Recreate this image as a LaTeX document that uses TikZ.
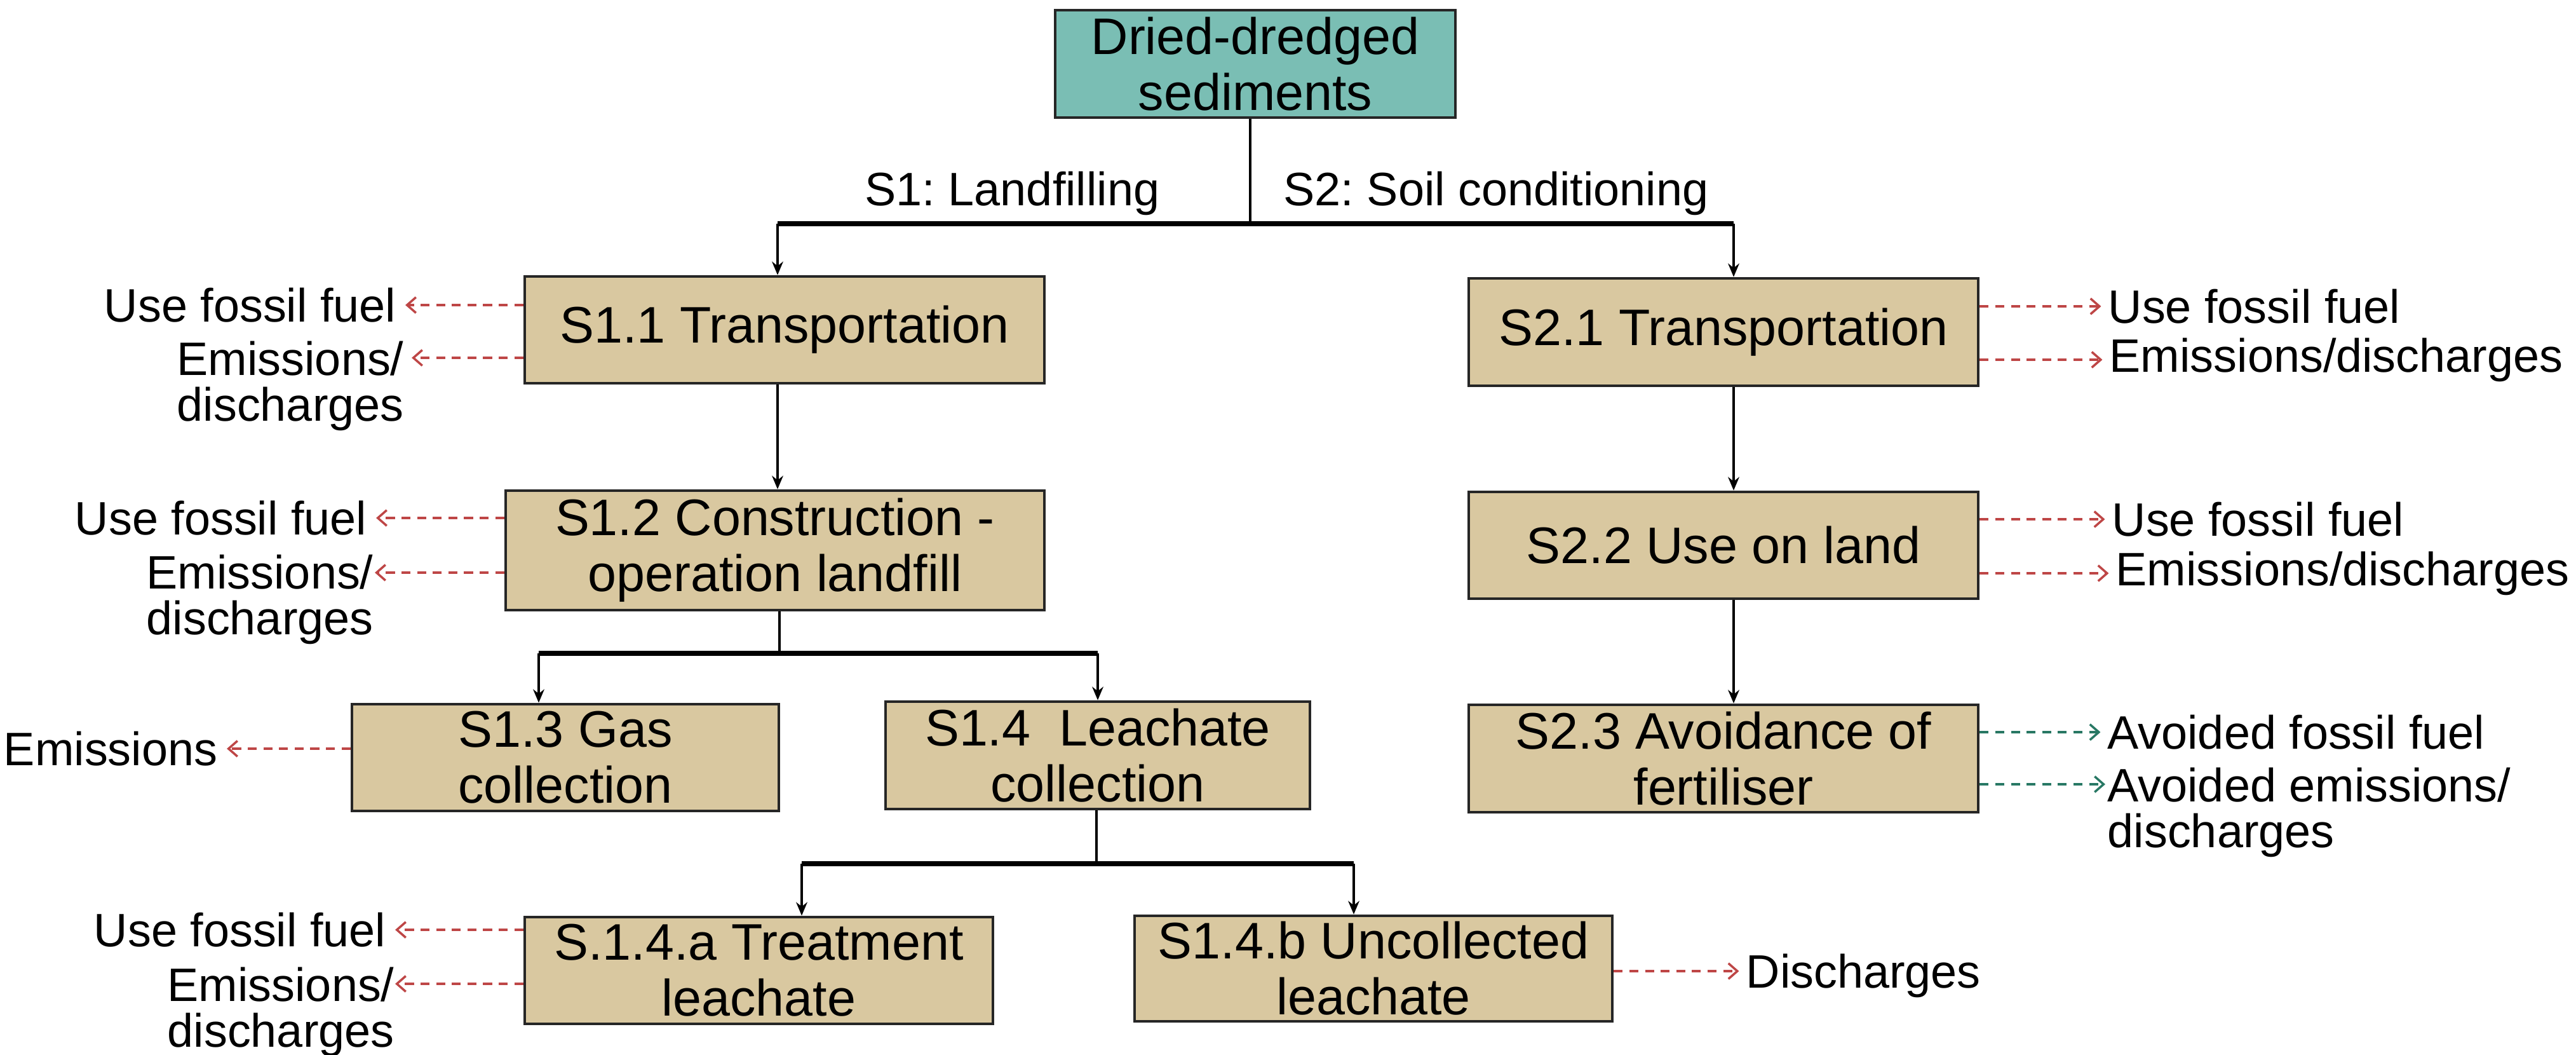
\documentclass[tikz,border=0pt]{standalone}
\usepackage{fontspec}
\setmainfont{Liberation Sans}
\usetikzlibrary{arrows.meta}
\frenchspacing
\definecolor{tanbox}{RGB}{217,200,160}
\definecolor{tealbox}{RGB}{122,190,180}
\definecolor{redarr}{RGB}{190,70,70}
\definecolor{greenarr}{RGB}{40,120,100}
\tikzset{
  box/.style={draw=black!85, line width=1.3pt, fill=tanbox, inner sep=0pt, align=center,
    font=\fontsize{23}{25}\selectfont},
  conn/.style={line width=1.1pt},
  barline/.style={line width=2.4pt},
  arr/.style={line width=1.1pt, -{Stealth[length=6pt,width=5pt]}},
  side/.style={inner sep=0pt, font=\fontsize{21}{20.5}\selectfont},
  redd/.style={redarr, line width=1pt, dash pattern=on 4pt off 3pt, -{Straight Barb[length=4pt,width=7pt]}},
  greend/.style={greenarr, line width=1pt, dash pattern=on 4pt off 3pt, -{Straight Barb[length=4pt,width=7pt]}}
}
\begin{document}
\begin{tikzpicture}
\useasboundingbox (0,0) rectangle (40.55,-16.59);
\node[box, fill=tealbox, minimum width=6.30cm, minimum height=1.69cm] (top) at (19.76,-1.005) {Dried-dredged\\sediments};
\node[box, minimum width=8.18cm, minimum height=1.68cm] (s11) at (12.35,-5.19) {S1.1 Transportation};
\node[box, minimum width=8.02cm, minimum height=1.69cm] (s21) at (27.13,-5.225) {S2.1 Transportation};
\node[box, minimum width=8.48cm, minimum height=1.88cm] (s12) at (12.20,-8.66) {S1.2 Construction -\\operation landfill};
\node[box, minimum width=8.02cm, minimum height=1.68cm] (s22) at (27.13,-8.58) {S2.2 Use on land};
\node[box, minimum width=6.72cm, minimum height=1.68cm] (s13) at (8.90,-11.92) {S1.3 Gas\\collection};
\node[box, minimum width=6.68cm, minimum height=1.69cm] (s14) at (17.28,-11.885) {S1.4\ \ Leachate\\collection};
\node[box, minimum width=8.02cm, minimum height=1.69cm] (s23) at (27.13,-11.935) {S2.3 Avoidance of\\fertiliser};
\node[box, minimum width=7.37cm, minimum height=1.68cm] (s14a) at (11.945,-15.27) {S.1.4.a Treatment\\leachate};
\node[box, minimum width=7.52cm, minimum height=1.66cm] (s14b) at (21.62,-15.24) {S1.4.b Uncollected\\leachate};

% tree connectors
\coordinate (j1) at (19.68,-3.52);
\coordinate (j1l) at (12.24,-3.52);
\coordinate (j1r) at (27.29,-3.52);
\draw[conn] (top.south -| j1) -- (j1);
\draw[barline] (j1l) -- (j1r);
\draw[arr] (j1l) -- (j1l |- s11.north);
\draw[arr] (j1r) -- (j1r |- s21.north);
\node[side, anchor=south east] (l1) at (18.26,-3.40) {S1: Landfilling};
\node[side, anchor=south west] (l2) at (20.20,-3.40) {S2: Soil conditioning};
\draw[arr] (s11.south -| j1l) -- (j1l |- s12.north);
\draw[arr] (s21.south -| j1r) -- (j1r |- s22.north);
\draw[arr] (s22.south -| j1r) -- (j1r |- s23.north);

\coordinate (j2) at (12.27,-10.28);
\coordinate (j2l) at (8.48,-10.28);
\coordinate (j2r) at (17.28,-10.28);
\draw[conn] (s12.south -| j2) -- (j2);
\draw[barline] (j2l) -- (j2r);
\draw[arr] (j2l) -- (j2l |- s13.north);
\draw[arr] (j2r) -- (j2r |- s14.north);

\coordinate (j3) at (17.26,-13.59);
\coordinate (j3l) at (12.62,-13.59);
\coordinate (j3r) at (21.31,-13.59);
\draw[conn] (s14.south -| j3) -- (j3);
\draw[barline] (j3l) -- (j3r);
\draw[arr] (j3l) -- (j3l |- s14a.north);
\draw[arr] (j3r) -- (j3r |- s14b.north);

% left side labels
\node[side, anchor=east] (u11) at (6.24,-4.80) {Use fossil fuel};
\node[side, anchor=north west, align=left] (e11) at (2.78,-5.36) {Emissions/\\discharges};
\coordinate (e11t) at (6.41,-5.63);
\draw[redd] (s11.west |- u11) -- ([xshift=4pt]u11.east);
\draw[redd] (s11.west |- e11t) -- ([xshift=2pt]e11t);

\node[side, anchor=east] (u12) at (5.78,-8.15) {Use fossil fuel};
\node[side, anchor=north west, align=left] (e12) at (2.30,-8.72) {Emissions/\\discharges};
\coordinate (e12t) at (5.83,-9.01);
\draw[redd] (s12.west |- u12) -- ([xshift=4pt]u12.east);
\draw[redd] (s12.west |- e12t) -- ([xshift=2pt]e12t);

\node[side, anchor=east] (em13) at (3.43,-11.78) {Emissions};
\draw[redd] (s13.west |- em13) -- ([xshift=4pt]em13.east);

\node[side, anchor=east] (u14a) at (6.08,-14.63) {Use fossil fuel};
\node[side, anchor=north west, align=left] (e14a) at (2.63,-15.21) {Emissions/\\discharges};
\coordinate (e14at) at (6.15,-15.48);
\draw[redd] (s14a.west |- u14a) -- ([xshift=4pt]u14a.east);
\draw[redd] (s14a.west |- e14at) -- ([xshift=2pt]e14at);

% right side labels
\node[side, anchor=west] (u21) at (33.18,-4.82) {Use fossil fuel};
\node[side, anchor=west] (e21) at (33.20,-5.66) {Emissions/discharges};
\draw[redd] (s21.east |- u21) -- ([xshift=-3pt]u21.west);
\draw[redd] (s21.east |- e21) -- ([xshift=-3pt]e21.west);

\node[side, anchor=west] (u22) at (33.24,-8.17) {Use fossil fuel};
\node[side, anchor=west] (e22) at (33.30,-9.02) {Emissions/discharges};
\draw[redd] (s22.east |- u22) -- ([xshift=-3pt]u22.west);
\draw[redd] (s22.east |- e22) -- ([xshift=-3pt]e22.west);

\node[side, anchor=west] (a23) at (33.17,-11.52) {Avoided fossil fuel};
\node[side, anchor=north west, align=left] (b23) at (33.17,-12.07) {Avoided emissions/\\discharges};
\coordinate (b23t) at (33.14,-12.34);
\draw[greend] (s23.east |- a23) -- ([xshift=-3pt]a23.west);
\draw[greend] (s23.east |- b23t) -- (b23t);

\node[side, anchor=west] (d14b) at (27.48,-15.35) {Discharges};
\draw[redd] (s14b.east |- 0,-15.28) -- ([xshift=-3pt]d14b.west |- 0,-15.28);
\end{tikzpicture}
\end{document}
